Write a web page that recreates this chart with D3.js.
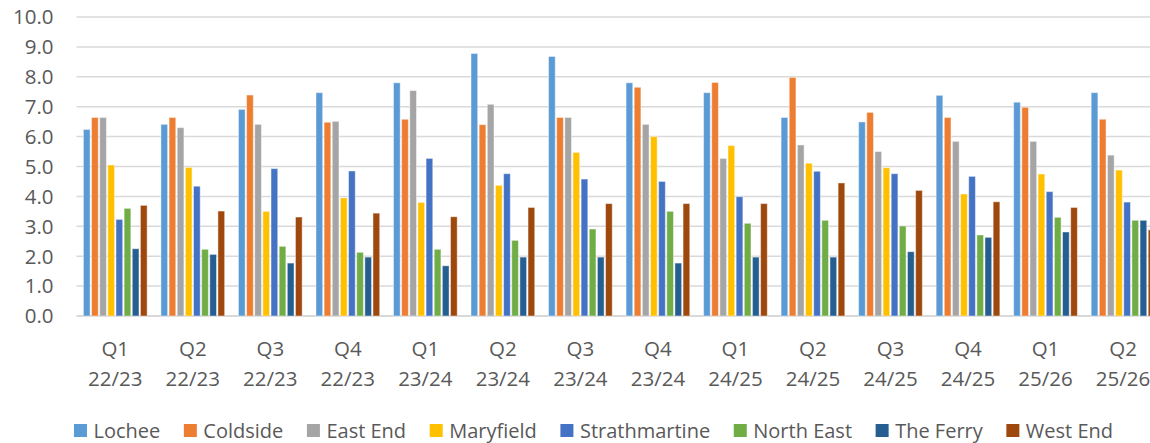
<!DOCTYPE html>
<html>
<head>
<meta charset="utf-8">
<script src="https://cdn.jsdelivr.net/npm/d3@7/dist/d3.min.js"></script>
<style>
  html, body { margin: 0; padding: 0; background: #fff; }
  svg { display: block; font-family: "Open Sans", Lato, sans-serif; }
</style>
</head>
<body>
<svg id="chart" width="1150" height="443"></svg>
<script>
// Quarterly figures by area
const categories = ["Q1 22/23", "Q2 22/23", "Q3 22/23", "Q4 22/23",
                    "Q1 23/24", "Q2 23/24", "Q3 23/24", "Q4 23/24",
                    "Q1 24/25", "Q2 24/25", "Q3 24/25", "Q4 24/25",
                    "Q1 25/26", "Q2 25/26"];

const lochee        = [6.24, 6.41, 6.91, 7.47, 7.80, 8.78, 8.68, 7.80, 7.47, 6.64, 6.49, 7.38, 7.15, 7.47];
const coldside      = [6.64, 6.64, 7.39, 6.48, 6.58, 6.40, 6.64, 7.65, 7.81, 7.98, 6.81, 6.64, 6.98, 6.58];
const eastEnd       = [6.64, 6.30, 6.41, 6.51, 7.54, 7.08, 6.64, 6.41, 5.27, 5.72, 5.50, 5.84, 5.84, 5.38];
const maryfield     = [5.05, 4.97, 3.50, 3.95, 3.80, 4.37, 5.47, 6.00, 5.70, 5.11, 4.96, 4.08, 4.75, 4.88];
const strathmartine = [3.23, 4.34, 4.93, 4.85, 5.27, 4.76, 4.58, 4.50, 3.99, 4.84, 4.76, 4.67, 4.16, 3.81];
const northEast     = [3.60, 2.23, 2.33, 2.13, 2.23, 2.53, 2.91, 3.50, 3.10, 3.20, 3.01, 2.71, 3.30, 3.20];
const theFerry      = [2.25, 2.06, 1.77, 1.97, 1.68, 1.97, 1.97, 1.77, 1.97, 1.97, 2.15, 2.63, 2.81, 3.20];
const westEnd       = [3.70, 3.51, 3.31, 3.44, 3.32, 3.63, 3.76, 3.76, 3.76, 4.45, 4.20, 3.82, 3.63, 2.88];

const seriesNames  = ["Lochee", "Coldside", "East End", "Maryfield", "Strathmartine", "North East", "The Ferry", "West End"];
const seriesValues = [lochee, coldside, eastEnd, maryfield, strathmartine, northEast, theFerry, westEnd];
const seriesColors = ["#5B9BD5", "#ED7D31", "#A5A5A5", "#FFC000", "#4472C4", "#70AD47", "#255E91", "#9E480E"];

const yTicks = [0, 1, 2, 3, 4, 5, 6, 7, 8, 9, 10];

const svg = d3.select("#chart");
const textColor = "#595959";
const gridColor = "#D9D9D9";
const fontSize = 20.5;

const plotLeft = 76.5, plotRight = 1161.8, plotTop = 17, plotBottom = 316;

const x0 = d3.scaleBand()
  .domain(categories)
  .range([plotLeft, plotRight])
  .paddingInner(0.178)
  .paddingOuter(0.089);

const x1 = d3.scaleBand()
  .domain(seriesNames)
  .range([0, x0.bandwidth()])
  .paddingInner(0.177);

const y = d3.scaleLinear().domain([0, 10]).range([plotBottom, plotTop]);

const color = d3.scaleOrdinal().domain(seriesNames).range(seriesColors);

// Horizontal gridlines
svg.append("g")
  .selectAll("line")
  .data(yTicks)
  .join("line")
  .attr("x1", plotLeft)
  .attr("x2", plotRight)
  .attr("y1", d => y(d))
  .attr("y2", d => y(d))
  .attr("stroke", gridColor)
  .attr("stroke-width", d => d === 0 ? 2 : 1.5);

// Y tick labels
svg.append("g")
  .selectAll("text")
  .data(yTicks)
  .join("text")
  .attr("x", 53.5)
  .attr("y", d => y(d))
  .attr("dy", "0.36em")
  .attr("text-anchor", "end")
  .attr("fill", textColor)
  .attr("font-size", fontSize)
  .text(d3.format(".1f"));

// Bars
const groups = svg.append("g")
  .selectAll("g")
  .data(categories)
  .join("g")
  .attr("transform", c => `translate(${x0(c)},0)`);

groups.selectAll("rect")
  .data((c, i) => seriesNames.map((name, s) => ({ name, value: seriesValues[s][i] })))
  .join("rect")
  .attr("x", d => x1(d.name))
  .attr("y", d => y(d.value))
  .attr("width", x1.bandwidth())
  .attr("height", d => y(0) - y(d.value))
  .attr("fill", d => color(d.name))
  .attr("stroke", "rgba(255,255,255,0.45)")
  .attr("stroke-width", 1);

// Category labels (two lines each)
const catLabels = svg.append("g")
  .selectAll("text")
  .data(categories)
  .join("text")
  .attr("text-anchor", "middle")
  .attr("fill", textColor)
  .attr("font-size", fontSize);

catLabels.each(function (c) {
  const parts = c.split(" ");
  const cx = x0(c) + x0.bandwidth() / 2;
  const t = d3.select(this);
  t.append("tspan").attr("x", cx).attr("y", 356).text(parts[0]);
  t.append("tspan").attr("x", cx).attr("y", 386).text(parts[1]);
});

// Legend
const legend = svg.append("g");
const items = legend.selectAll("g")
  .data(seriesNames)
  .join("g");

items.append("rect")
  .attr("x", 0)
  .attr("y", 424)
  .attr("width", 13)
  .attr("height", 13)
  .attr("fill", d => color(d));

items.append("text")
  .attr("x", 19.5)
  .attr("y", 437.5)
  .attr("fill", textColor)
  .attr("font-size", 20)
  .text(d => d);

let offset = 0;
const itemGap = 23.6;
items.each(function () {
  const g = d3.select(this);
  const w = g.select("text").node().getComputedTextLength();
  g.attr("transform", `translate(${offset},0)`);
  offset += 19.5 + w + itemGap;
});
const totalWidth = offset - itemGap;
legend.attr("transform", `translate(${593.5 - totalWidth / 2},0)`);
</script>
</body>
</html>
